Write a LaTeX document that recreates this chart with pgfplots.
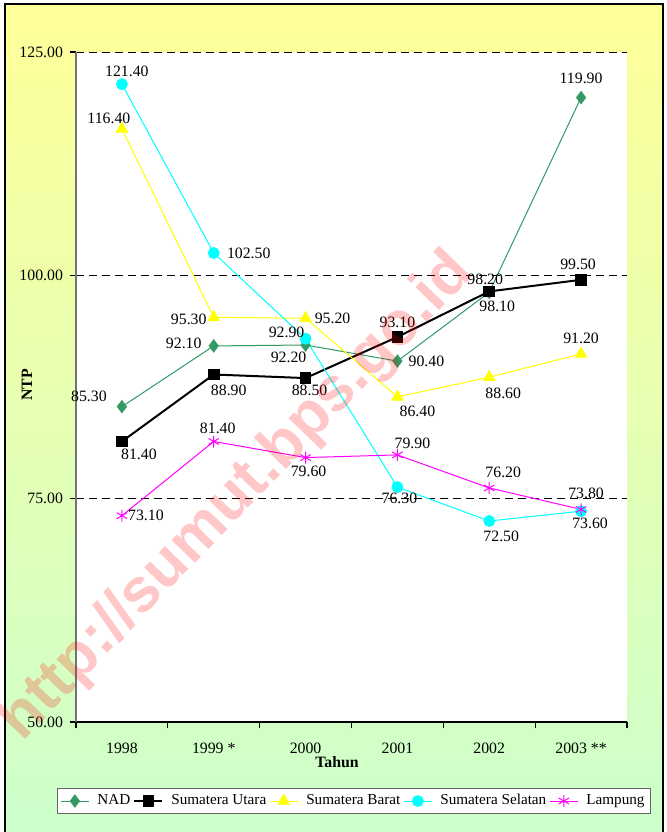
\documentclass[border=0pt]{standalone}
\usepackage{pgfplots}
\pgfplotsset{compat=1.18}
\usepackage{fontspec}
\setmainfont{Liberation Serif}
\newfontfamily\wmfont{Liberation Sans}

\definecolor{nadgreen}{HTML}{339966}
\definecolor{xlyellow}{HTML}{FFFF00}
\definecolor{xlcyan}{HTML}{00FFFF}
\definecolor{xlmagenta}{HTML}{FF00FF}
\definecolor{bgtop}{HTML}{FFFF99}
\definecolor{bgbot}{HTML}{CCFFCC}

% label offsets dx, dy in pt
\pgfplotstableread{
x y dx dy
0 85.3 -16.5 5
1 92.1 -15 1.5
2 92.2 -8.5 -6
3 90.4 14.5 0
4 98.1 4 -7
5 119.9 0 9.5
}\nad
\pgfplotstableread{
x y dx dy
0 81.4 8.5 -6.5
1 88.9 7.5 -8
2 88.5 2 -6
3 93.1 0 7.5
4 98.2 -2 6
5 99.5 -1.5 7.5
}\utara
\pgfplotstableread{
x y dx dy
0 116.4 -6.5 5
1 95.3 -12.5 -1
2 95.2 13.5 0
3 86.4 10 -7.5
4 88.6 7 -8
5 91.2 0 8
}\barat
\pgfplotstableread{
x y dx dy
0 121.4 2.5 6.5
1 102.5 17.5 0
2 92.9 -9.5 3
3 76.3 1 -5.5
4 72.5 6 -7.5
5 73.6 4.5 -6
}\selatan
\pgfplotstableread{
x y dx dy
0 73.1 12 0
1 81.4 2 6.5
2 79.6 1.5 -7
3 79.9 7.5 6
4 76.2 7 8
5 73.8 2.5 8
}\lampung

\pgfplotsset{
  lbl/.style={
    nodes near coords={\pgfmathprintnumber[fixed,fixed zerofill,precision=2]{\pgfplotspointmeta}},
    point meta=y,
    visualization depends on={\thisrow{dx} \as \dx},
    visualization depends on={\thisrow{dy} \as \dy},
    every node near coord/.append style={anchor=center, text=black, inner sep=0pt,
      xshift=\dx*1pt, yshift=\dy*1pt},
  },
}

\begin{document}
\begin{tikzpicture}[font=\fontsize{7.9}{9.4}\selectfont]
\clip (0,0) rectangle (333pt,416pt);
\fill[white] (0,0) rectangle (333pt,416pt);
\shade[top color=bgtop, bottom color=bgbot] (2.5pt,-2pt) rectangle (331.5pt,414pt);
\draw[line width=0.8pt] (2.5pt,-2pt) rectangle (331.5pt,414pt);

\begin{axis}[
  at={(38pt,55pt)}, anchor=south west,
  scale only axis, width=275.5pt, height=335pt,
  xmin=-0.5, xmax=5.5, ymin=50, ymax=125,
  axis x line*=bottom, axis y line*=left,
  x axis line style={black, line width=0.6pt},
  y axis line style={black!55, line width=0.6pt},
  axis background/.style={fill=white},
  xtick={0,...,5},
  xticklabels={1998,1999 *,2000,2001,2002,2003 **},
  minor xtick={-0.5,0.5,...,5.5},
  major x tick style={draw=none},
  minor x tick style={black, line width=0.6pt},
  ytick={50,75,100,125},
  y tick style={black, line width=0.6pt},
  tick align=outside,
  major tick length=3pt, minor tick length=3pt,
  /pgf/number format/assume math mode=true,
  yticklabel style={/pgf/number format/.cd,fixed,fixed zerofill,precision=2},
  xticklabel style={yshift=-4pt},
  ymajorgrids,
  grid style={black, dash pattern=on 4pt off 2.5pt, line width=0.5pt},
  xlabel={\bfseries Tahun}, ylabel={\bfseries NTP},
  xlabel style={at={(axis description cs:0.4737,-0.0597)}, anchor=center},
  ylabel style={at={(axis description cs:-0.0889,0.503)}, anchor=center, rotate=0},
  legend style={at={(axis description cs:0.5045,-0.098)}, anchor=north,
    legend columns=5, draw=black!60, fill=white, line width=0.6pt,
    inner xsep=1.5pt, inner ysep=1pt,
    font=\fontsize{7.6}{9}\selectfont,
    nodes={inner xsep=1.5pt},
    /tikz/every even column/.append style={column sep=0pt},
    /tikz/every odd column/.append style={column sep=2.5pt}},
  legend cell align=left,
  legend image code/.code={\draw[mark repeat=2,mark phase=2]
    plot coordinates {(0pt,0pt) (7pt,0pt) (14pt,0pt)};},
  clip=false,
]
\addplot[nadgreen, line width=0.5pt, mark=diamond*, mark size=3pt,
  mark options={solid}, lbl] table[x=x, y=y] {\nad};
\addlegendentry{NAD}
\addplot[black, line width=1pt, mark=square*, mark size=2.4pt,
  mark options={solid}, lbl] table[x=x, y=y] {\utara};
\addlegendentry{Sumatera Utara}
\addplot[xlyellow, line width=0.5pt, mark=triangle*, mark size=3.2pt,
  mark options={solid}, lbl] table[x=x, y=y] {\barat};
\addlegendentry{Sumatera Barat}
\addplot[xlcyan, line width=0.5pt, mark=*, mark size=2.7pt,
  mark options={solid}, lbl] table[x=x, y=y] {\selatan};
\addlegendentry{Sumatera Selatan}
\addplot[xlmagenta, line width=0.5pt, mark=asterisk, mark size=3pt,
  mark options={solid}, lbl] table[x=x, y=y] {\lampung};
\addlegendentry{Lampung}
\end{axis}

\node[rotate=46, text=red, opacity=0.22, font=\wmfont\bfseries\fontsize{31}{31}\selectfont]
  at (118.5pt,167.5pt) {http://sumut.bps.go.id};
\end{tikzpicture}
\end{document}
